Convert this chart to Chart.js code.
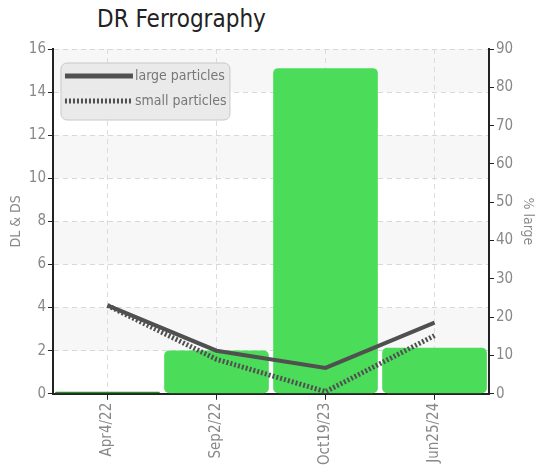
<!DOCTYPE html>
<html>
<head>
<meta charset="utf-8">
<script src="https://cdn.jsdelivr.net/npm/chart.js@4"></script>
<style>
  html, body { margin: 0; padding: 0; background: #fff; }
  #wrap { position: relative; width: 548px; height: 476px; }
  #titulo { position: absolute; left: 97px; top: 5px; font: 24px "DejaVu Sans Condensed", "Roboto", sans-serif; color: #222; }
  canvas { position: absolute; left: 0; top: 0; }
</style>
</head>
<body>
<div id="wrap">
  <div id="titulo">DR Ferrography</div>
  <canvas id="graficoFerrografia" width="548" height="476"></canvas>
</div>
<script>
const fechas = ["Apr4/22", "Sep2/22", "Oct19/23", "Jun25/24"];
const particulasGrandes = [4.1, 2.0, 1.2, 3.3];
const particulasChicas = [4.1, 1.6, 0.1, 2.7];
const porcentajeGrandes = [0.5, 11.3, 85, 12.0];

const fuente = "'DejaVu Sans Condensed', Roboto, sans-serif";

// franjas grises alternadas y leyenda dentro del area
const franjas = {
    id: "franjas",
    beforeDraw(chart) {
        const { ctx, chartArea: a, scales } = chart;
        const y = scales.y;
        ctx.save();
        ctx.fillStyle = "#f7f7f7";
        for (let v = 2; v < 16; v += 4) {
            const top = y.getPixelForValue(v + 2);
            const bot = y.getPixelForValue(v);
            ctx.fillRect(a.left, top, a.right - a.left, bot - top);
        }
        ctx.restore();
    },
    afterDraw(chart) {
        const { ctx, chartArea: a } = chart;
        const x0 = a.left + 8, y0 = a.top + 14;
        ctx.save();
        ctx.beginPath();
        ctx.roundRect(x0, y0, 169, 57, 6);
        ctx.fillStyle = "rgba(232,232,232,0.92)";
        ctx.fill();
        ctx.strokeStyle = "#c8c8c8";
        ctx.lineWidth = 1;
        ctx.stroke();
        const lineas = chart.data.datasets.filter(d => d.type === "line");
        lineas.forEach((d, i) => {
            const yy = y0 + 13 + i * 25;
            ctx.beginPath();
            ctx.setLineDash(d.borderDash || []);
            ctx.strokeStyle = d.borderColor;
            ctx.lineWidth = 5;
            ctx.moveTo(x0 + 4, yy);
            ctx.lineTo(x0 + 72, yy);
            ctx.stroke();
            ctx.setLineDash([]);
            ctx.fillStyle = "#777";
            ctx.font = "14px " + fuente;
            ctx.textBaseline = "middle";
            ctx.fillText(d.label, x0 + 74, yy);
        });
        ctx.restore();
    }
};

new Chart(document.getElementById("graficoFerrografia"), {
    type: "bar",
    data: {
        labels: fechas,
        datasets: [
            {
                type: "line",
                label: "large particles",
                data: particulasGrandes,
                yAxisID: "y",
                borderColor: "#505050",
                borderWidth: 4,
                pointRadius: 0,
                tension: 0,
                order: 0
            },
            {
                type: "line",
                label: "small particles",
                data: particulasChicas,
                yAxisID: "y",
                borderColor: "#505050",
                borderDash: [2, 2],
                borderWidth: 5,
                pointRadius: 0,
                tension: 0,
                order: 1
            },
            {
                type: "bar",
                label: "% large",
                data: porcentajeGrandes,
                yAxisID: "y1",
                backgroundColor: ["#2a8a2a", "#4bdd5a", "#4bdd5a", "#4bdd5a"],
                borderRadius: 5,
                borderSkipped: false,
                barPercentage: 0.96,
                categoryPercentage: 1,
                order: 2
            }
        ]
    },
    options: {
        responsive: false,
        animation: false,
        layout: { padding: { top: 49, right: 8, left: 6, bottom: 8 } },
        plugins: {
            legend: { display: false },
            tooltip: { enabled: false }
        },
        scales: {
            x: {
                offset: true,
                grid: { offset: false, color: "#dcdcdc", tickColor: "#222", tickLength: 6 },
                border: { color: "#222", width: 2, dash: [5, 4] },
                ticks: { color: "#888", font: { family: fuente, size: 15 }, maxRotation: 90, minRotation: 90 }
            },
            y: {
                position: "left",
                min: 0, max: 16,
                ticks: { stepSize: 2, color: "#888", font: { family: fuente, size: 15 }, padding: 2 },
                grid: { color: "#d8d8d8", tickColor: "#222", tickLength: 5 },
                border: { color: "#222", width: 2, dash: [5, 4] },
                title: { display: true, text: "DL & DS", color: "#888", font: { family: fuente, size: 14 }, padding: 2 }
            },
            y1: {
                position: "right",
                min: 0, max: 90,
                ticks: { stepSize: 10, color: "#888", font: { family: fuente, size: 15 }, padding: 2 },
                grid: { drawOnChartArea: false, tickColor: "#222", tickLength: 5 },
                border: { color: "#222", width: 2 },
                title: { display: true, text: "% large", color: "#888", font: { family: fuente, size: 14 }, padding: 4 }
            }
        }
    },
    plugins: [franjas]
});
</script>
</body>
</html>
